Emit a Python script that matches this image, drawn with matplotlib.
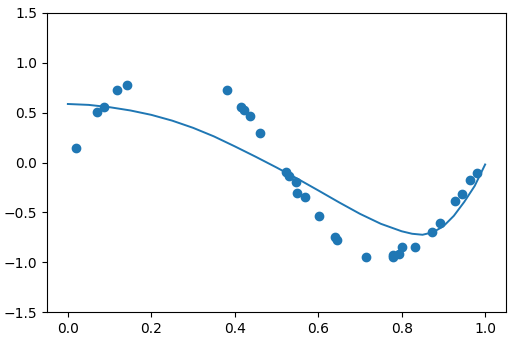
import numpy as np
import matplotlib
matplotlib.use("Agg")
import matplotlib.pyplot as plt

# scattered samples
x_pts = [0.020, 0.069, 0.086, 0.118, 0.141, 0.382, 0.414, 0.423, 0.437, 0.461,
         0.523, 0.529, 0.546, 0.549, 0.569, 0.601, 0.641, 0.644, 0.714, 0.778,
         0.780, 0.793, 0.800, 0.833, 0.872, 0.891, 0.928, 0.945, 0.964, 0.981]
y_pts = [0.15, 0.51, 0.56, 0.73, 0.78, 0.73, 0.56, 0.53, 0.47, 0.30,
         -0.10, -0.14, -0.20, -0.31, -0.35, -0.54, -0.75, -0.78, -0.95, -0.93,
         -0.95, -0.92, -0.85, -0.85, -0.70, -0.61, -0.39, -0.32, -0.18, -0.11]

# fitted curve
x_fit = [0.00, 0.05, 0.10, 0.15, 0.20, 0.25, 0.30, 0.35, 0.40, 0.45, 0.50,
         0.55, 0.60, 0.65, 0.70, 0.75, 0.80, 0.825, 0.85, 0.875, 0.90, 0.925,
         0.95, 0.975, 1.00]
y_fit = [0.587, 0.578, 0.555, 0.522, 0.478, 0.420, 0.348, 0.262, 0.162, 0.058,
         -0.050, -0.162, -0.280, -0.400, -0.515, -0.615, -0.690, -0.715, -0.725,
         -0.700, -0.640, -0.535, -0.395, -0.235, -0.020]

fig = plt.figure(figsize=(5.12, 3.43), dpi=100)
ax = fig.add_axes([47/512, 31/343, 459/512, 299/343])

ax.scatter(x_pts, y_pts)
ax.plot(x_fit, y_fit, linewidth=1.4)

ax.set_xlim(-0.05, 1.05)
ax.set_ylim(-1.5, 1.5)
ax.set_xticks([0.0, 0.2, 0.4, 0.6, 0.8, 1.0])
ax.set_yticks([-1.5, -1.0, -0.5, 0.0, 0.5, 1.0, 1.5])

fig.savefig("out.png", dpi=100)
